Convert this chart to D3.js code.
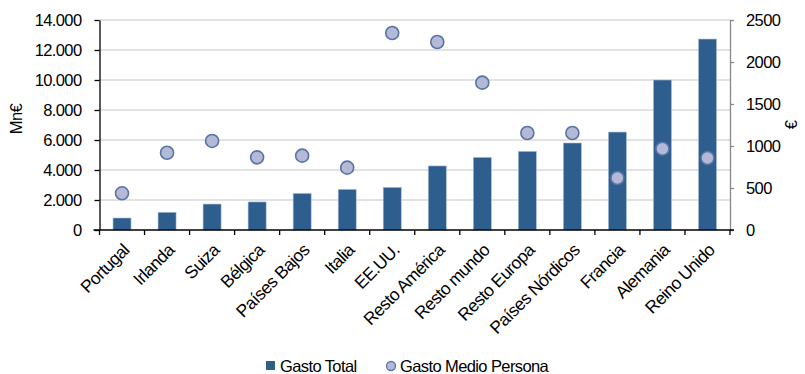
<!DOCTYPE html>
<html>
<head>
<meta charset="utf-8">
<script src="https://cdn.jsdelivr.net/npm/d3@7"></script>
<style>
  body { margin: 0; background: #fff; }
  text { font-family: "Liberation Sans", Arial, sans-serif; fill: #000; letter-spacing: -0.6px; }
</style>
</head>
<body>
<svg id="chart" width="805" height="374"></svg>
<script>
// Destinations, total spend (Mn€) and average spend per person (€)
const categories = ["Portugal", "Irlanda", "Suiza", "Bélgica", "Países Bajos", "Italia", "EE.UU.",
  "Resto América", "Resto mundo", "Resto Europa", "Países Nórdicos", "Francia", "Alemania", "Reino Unido"];
const gastoTotal = [800, 1180, 1730, 1870, 2440, 2710, 2840, 4270, 4840, 5240, 5800, 6530, 10000, 12730];
const gastoMedio = [437, 920, 1060, 865, 885, 742, 2345, 2238, 1754, 1155, 1155, 619, 968, 857];
const leftTicks = [0, 2000, 4000, 6000, 8000, 10000, 12000, 14000];
const rightTicks = [0, 500, 1000, 1500, 2000, 2500];

const FS = 16.5;
const FSX = 17.5;
const svg = d3.select("#chart");
const m = { left: 99.5, right: 730, top: 20, bottom: 230 };

const x = d3.scaleBand().domain(categories).range([m.left, m.right]).paddingInner(0).paddingOuter(0);
const yL = d3.scaleLinear().domain([0, 14000]).range([m.bottom, m.top]);
const yR = d3.scaleLinear().domain([0, 2500]).range([m.bottom, m.top]);

const fmt = d => d3.format(",")(d).replace(/,/g, ".");

// Gridlines
svg.append("g").selectAll("line").data(leftTicks.filter(d => d > 0)).join("line")
  .attr("x1", m.left).attr("x2", m.right)
  .attr("y1", d => yL(d)).attr("y2", d => yL(d))
  .attr("stroke", "#d9d9d9").attr("stroke-width", 1.5);

// Bars
const barW = x.bandwidth() * 0.4;
svg.append("g").selectAll("rect").data(categories).join("rect")
  .attr("x", d => x(d) + (x.bandwidth() - barW) / 2)
  .attr("width", barW)
  .attr("y", (d, i) => yL(gastoTotal[i]))
  .attr("height", (d, i) => yL(0) - yL(gastoTotal[i]))
  .attr("fill", "#2e5e8e")
  .attr("stroke", "#a9bdd6").attr("stroke-width", 0.6);

// Left axis
const axL = svg.append("g").attr("transform", `translate(${m.left},0)`)
  .call(d3.axisLeft(yL).tickValues(leftTicks).tickFormat(fmt).tickSize(5).tickSizeOuter(0));
axL.select(".domain").attr("stroke", "#000").attr("stroke-width", 1.3);
axL.selectAll(".tick line").attr("stroke", "#000").attr("stroke-width", 1.3);
axL.selectAll(".tick text").attr("font-size", FS).attr("x", -18)
  .style("font-family", "Liberation Sans, Arial");

// Right axis
const axR = svg.append("g").attr("transform", `translate(${m.right},0)`)
  .call(d3.axisRight(yR).tickValues(rightTicks).tickFormat(d3.format("d")).tickSize(4).tickSizeOuter(0));
axR.select(".domain").attr("stroke", "#888").attr("stroke-width", 1.3);
axR.selectAll(".tick line").attr("stroke", "#888").attr("stroke-width", 1.3);
axR.selectAll(".tick text").attr("font-size", FS).attr("x", 16)
  .style("font-family", "Liberation Sans, Arial");

// Bottom axis with ticks between categories
const bx = svg.append("g");
bx.append("line").attr("x1", m.left - 6).attr("x2", m.right + 4)
  .attr("y1", m.bottom).attr("y2", m.bottom).attr("stroke", "#000").attr("stroke-width", 1.3);
bx.selectAll("line.tk").data(categories.concat(["__end"])).join("line").attr("class", "tk")
  .attr("x1", (d, i) => m.left + i * x.step()).attr("x2", (d, i) => m.left + i * x.step())
  .attr("y1", m.bottom).attr("y2", m.bottom + 5)
  .attr("stroke", "#000").attr("stroke-width", 1.3);
bx.selectAll("text").data(categories).join("text")
  .attr("transform", d => `translate(${x(d) + x.bandwidth() / 2 + 4},${m.bottom + 17}) rotate(-45)`)
  .attr("text-anchor", "end").attr("font-size", FSX).attr("dy", "0.35em")
  .text(d => d);

// Average spend markers
svg.append("g").selectAll("circle").data(categories).join("circle")
  .attr("cx", d => x(d) + x.bandwidth() / 2)
  .attr("cy", (d, i) => yR(gastoMedio[i]))
  .attr("r", 6.5)
  .attr("fill", "#b3b9d6")
  .attr("stroke", "#5874a6").attr("stroke-width", 1.6);

// Axis titles
svg.append("text").attr("transform", "translate(22,119) rotate(-90)")
  .attr("text-anchor", "middle").attr("font-size", FS).text("Mn€");
svg.append("text").attr("transform", "translate(797,125) rotate(-90)")
  .attr("text-anchor", "middle").attr("font-size", FS).text("€");

// Legend
const lg = svg.append("g");
lg.append("rect").attr("x", 266).attr("y", 361).attr("width", 9).attr("height", 9).attr("fill", "#2e5e8e");
lg.append("text").attr("x", 280).attr("y", 366).attr("dy", "0.35em").attr("font-size", FS).text("Gasto Total");
lg.append("circle").attr("cx", 391).attr("cy", 366).attr("r", 4.5)
  .attr("fill", "#b3b9d6").attr("stroke", "#5874a6").attr("stroke-width", 1.3);
lg.append("text").attr("x", 400).attr("y", 366).attr("dy", "0.35em").attr("font-size", FS).text("Gasto Medio Persona");
</script>
</body>
</html>
